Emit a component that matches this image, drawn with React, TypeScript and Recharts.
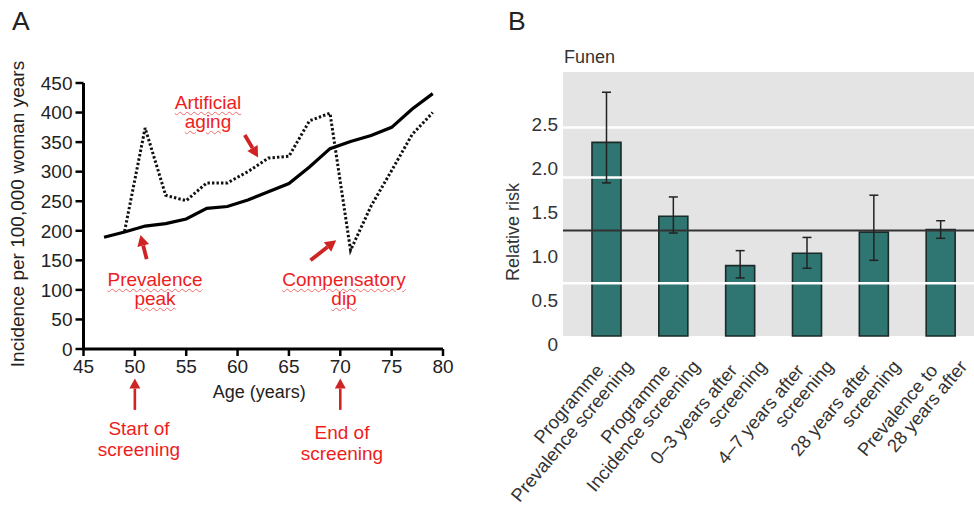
import React from "react";
import {
  LineChart,
  Line,
  XAxis,
  YAxis,
  ReferenceLine,
  BarChart,
  Bar,
  ErrorBar,
  CartesianGrid,
  Label,
} from "recharts";

// Panel A: breast cancer incidence by age
const ages = [47, 49, 51, 53, 55, 57, 59, 61, 63, 65, 67, 69, 71, 73, 75, 77, 79];
const noScreening = [189, 198, 208, 212, 220, 238, 241, 252, 266, 280, 308, 339, 351, 361, 375, 406, 432];
const withScreening = [null, 199, 374, 260, 251, 281, 281, 300, 323, 326, 386, 399, 167, 242, 302, 363, 400];
const ageTicks = [45, 50, 55, 60, 65, 70, 75, 80];
const incidenceTicks = [0, 50, 100, 150, 200, 250, 300, 350, 400, 450];

// Panel B: relative risk, Funen
const groupLine1 = ["Programme", "Programme", "0–3 years after", "4–7 years after", "28 years after", "Prevalence to"];
const groupLine2 = ["Prevalence screening", "Incidence screening", "screening", "screening", "screening", "28 years after"];
const relativeRisk = [2.2, 1.36, 0.8, 0.94, 1.18, 1.21];
const ciLow = [1.74, 1.17, 0.66, 0.77, 0.86, 1.11];
const ciHigh = [2.77, 1.58, 0.97, 1.12, 1.6, 1.31];
const riskTicks = [0, 0.5, 1, 1.5, 2, 2.5];
const gridLevels = [0.6, 1.8, 2.37];
const referenceRisk = 1.2;

const incidenceData = ages.map((age, i) => ({
  age,
  base: noScreening[i],
  screened: withScreening[i],
}));

const riskData = relativeRisk.map((rr, i) => ({
  name: groupLine1[i],
  line2: groupLine2[i],
  rr,
  err: [rr - ciLow[i], ciHigh[i] - rr],
}));

const font = "'Liberation Sans', Arial, Helvetica, sans-serif";
const red = "#cf2424";
const textRed = "#ee1d1d";

function Arrow(props: any) {
  const { x1, y1, x2, y2, w = 3.8, head = 11, half = 6 } = props;
  const dx = x2 - x1;
  const dy = y2 - y1;
  const len = Math.hypot(dx, dy) || 1;
  const ux = dx / len;
  const uy = dy / len;
  const bx = x2 - ux * head;
  const by = y2 - uy * head;
  return (
    <g>
      <line x1={x1} y1={y1} x2={bx} y2={by} stroke={red} strokeWidth={w} />
      <polygon
        points={`${x2},${y2} ${bx - uy * half},${by + ux * half} ${bx + uy * half},${by - ux * half}`}
        fill={red}
      />
    </g>
  );
}

function RiskTick(props: any) {
  const { x, y, index } = props;
  return (
    <text
      transform={`translate(${x},${y}) rotate(-50)`}
      textAnchor="end"
      fontSize={18.5}
      fontFamily={font}
      fill="#333"
    >
      <tspan x={-28} y={21}>{groupLine1[index]}</tspan>
      <tspan x={-6} y={41}>{groupLine2[index]}</tspan>
    </text>
  );
}

const note = (top: number, cx: number, lines: string[], wavy: boolean, lh = 19) => (
  <div
    style={{
      position: "absolute",
      left: cx - 90,
      top,
      width: 180,
      textAlign: "center",
      fontFamily: font,
      fontSize: 19,
      lineHeight: `${lh}px`,
      color: textRed,
    }}
  >
    {lines.map((l) => (
      <div key={l}>
        <span
          style={
            wavy
              ? {
                  textDecoration: "underline wavy #f06a6a",
                  textDecorationThickness: "1px",
                  textUnderlineOffset: "2px",
                }
              : undefined
          }
        >
          {l}
        </span>
      </div>
    ))}
  </div>
);

export default function App() {
  return (
    <div
      style={{
        position: "absolute",
        left: 0,
        top: 0,
        width: 974,
        height: 508,
        background: "#fff",
        overflow: "hidden",
        fontFamily: font,
      }}
    >
      <div style={{ position: "absolute", left: 12, top: 8, fontSize: 26.5, lineHeight: "27px", color: "#222" }}>A</div>
      <div style={{ position: "absolute", left: 508, top: 8, fontSize: 26.5, lineHeight: "27px", color: "#222" }}>B</div>

      <div style={{ position: "absolute", left: 0, top: 0 }}>
        <LineChart
          width={470}
          height={420}
          data={incidenceData}
          margin={{ top: 83, right: 27, bottom: 41, left: 0 }}
        >
          <XAxis
            dataKey="age"
            type="number"
            domain={[45, 80]}
            ticks={ageTicks}
            height={30}
            stroke="#000"
            axisLine={{ stroke: "#000", strokeWidth: 3 }}
            tickLine={{ stroke: "#000", strokeWidth: 2.5 }}
            tickSize={7}
            tickMargin={4}
            tick={{ fill: "#222", fontSize: 19, fontFamily: font }}
          >
            <Label value="Age (years)" position="center" dx={-4} dy={28} fill="#222" fontSize={18} fontFamily={font} />
          </XAxis>
          <YAxis
            type="number"
            domain={[0, 450]}
            ticks={incidenceTicks}
            width={83.5}
            axisLine={{ stroke: "#000", strokeWidth: 3 }}
            tickLine={{ stroke: "#000", strokeWidth: 2.5 }}
            tickSize={8}
            tickMargin={3}
            tick={{ fill: "#222", fontSize: 19, fontFamily: font }}
          >
            <Label
              value="Incidence per 100,000 woman years"
              position="center"
              angle={-90}
              dx={-24}
              dy={-2}
              fill="#222"
              fontSize={19}
              fontFamily={font}
            />
          </YAxis>
          <Line
            dataKey="screened"
            stroke="#111"
            strokeWidth={3}
            strokeDasharray="2.4 2.1"
            dot={false}
            isAnimationActive={false}
            connectNulls={false}
          />
          <Line dataKey="base" stroke="#000" strokeWidth={3.2} dot={false} isAnimationActive={false} />
          <ReferenceLine ifOverflow="visible" segment={[{ x: 60.7, y: 362 }, { x: 62.0, y: 324 }]} shape={(p: any) => <Arrow {...p} />} />
          <ReferenceLine ifOverflow="visible" segment={[{ x: 51.15, y: 152 }, { x: 50.55, y: 193 }]} shape={(p: any) => <Arrow {...p} />} />
          <ReferenceLine ifOverflow="visible" segment={[{ x: 67.1, y: 150 }, { x: 69.6, y: 184 }]} shape={(p: any) => <Arrow {...p} />} />
          <ReferenceLine ifOverflow="visible" segment={[{ x: 50, y: -103 }, { x: 50, y: -50 }]} shape={(p: any) => <Arrow {...p} w={2.6} head={10} half={5.5} />} />
          <ReferenceLine ifOverflow="visible" segment={[{ x: 70, y: -103 }, { x: 70, y: -50 }]} shape={(p: any) => <Arrow {...p} w={2.6} head={10} half={5.5} />} />
        </LineChart>
      </div>

      {note(92.5, 208, ["Artificial", "aging"], true)}
      {note(269.5, 155, ["Prevalence", "peak"], true)}
      {note(269.5, 344, ["Compensatory", "dip"], true)}
      {note(418, 139, ["Start of", "screening"], false, 21)}
      {note(421.5, 342, ["End of", "screening"], false, 21)}

      <div style={{ position: "absolute", left: 564, top: 47.5, fontSize: 18, lineHeight: "18px", color: "#333" }}>Funen</div>

      <div style={{ position: "absolute", left: 500, top: 0 }}>
        <BarChart
          width={474}
          height={508}
          data={riskData}
          margin={{ top: 72, right: 0, bottom: 0, left: 0 }}
        >
          <CartesianGrid fill="#e4e4e4" stroke="none" horizontal={false} vertical={false} />
          <XAxis
            dataKey="name"
            type="category"
            height={172}
            padding={{ left: 10, right: 0 }}
            axisLine={false}
            tickLine={false}
            tickSize={0}
            tickMargin={0}
            interval={0}
            tick={<RiskTick />}
          />
          <YAxis
            type="number"
            domain={[0, 3]}
            ticks={riskTicks}
            tickFormatter={(v: number) => (v === 0 ? "0" : v.toFixed(1))}
            width={63}
            axisLine={false}
            tickLine={false}
            tickSize={0}
            tickMargin={5}
            tick={{ fill: "#333", fontSize: 19, fontFamily: font, dy: 8 }}
          >
            <Label value="Relative risk" position="center" angle={-90} dx={-18.5} dy={28} fill="#333" fontSize={18} fontFamily={font} />
          </YAxis>
          {gridLevels.map((g) => (
            <ReferenceLine key={g} y={g} stroke="#ffffff" strokeWidth={2.5} />
          ))}
          <ReferenceLine y={referenceRisk} stroke="#333" strokeWidth={2} />
          <Bar dataKey="rr" barSize={29} fill="#2f7571" stroke="#1a2b29" strokeWidth={1.6} isAnimationActive={false}>
            <ErrorBar dataKey="err" direction="y" width={4.5} stroke="#222" strokeWidth={1.5} />
          </Bar>
        </BarChart>
      </div>
    </div>
  );
}
